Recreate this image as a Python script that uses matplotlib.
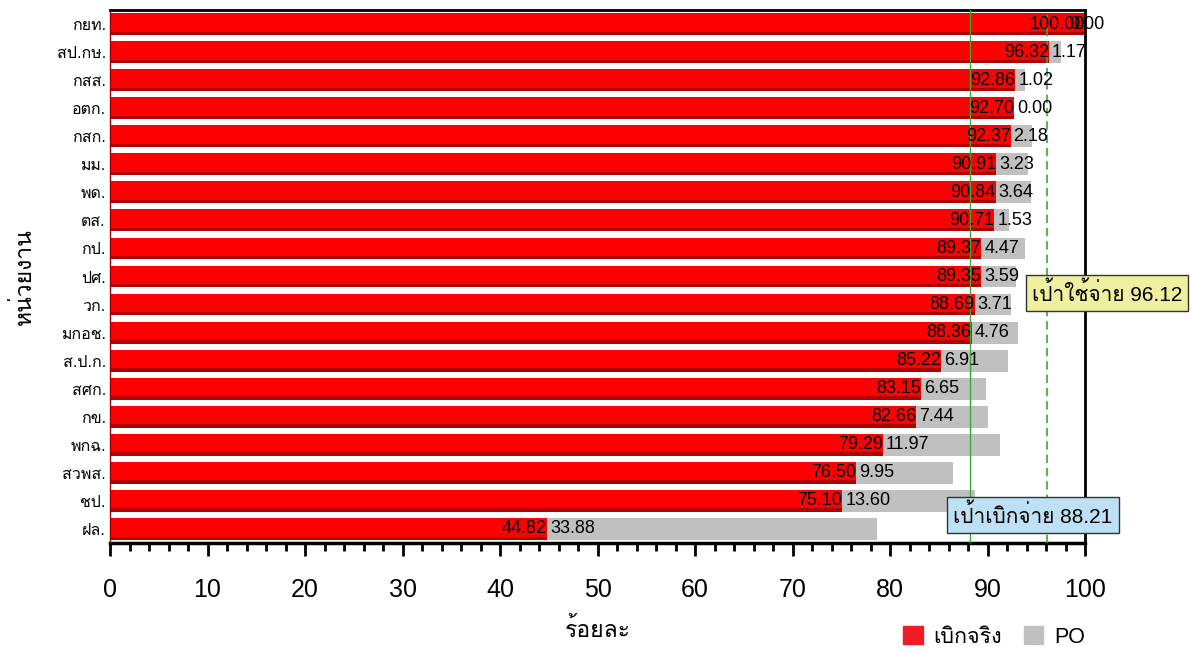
import matplotlib
matplotlib.use('Agg')
import matplotlib.pyplot as plt
from matplotlib import font_manager
from matplotlib.ft2font import FT2Font
from matplotlib.patches import Patch

# Data
# =====================================================================================
units = ['กยท.', 'สป.กษ.', 'กสส.', 'อตก.', 'กสก.', 'มม.', 'พด.', 'ตส.', 'กป.', 'ปศ.',
         'วก.', 'มกอช.', 'ส.ป.ก.', 'สศก.', 'กข.', 'พกฉ.', 'สวพส.', 'ชป.', 'ฝล.']
actual = [100.00, 96.32, 92.86, 92.70, 92.37, 90.91, 90.84, 90.71, 89.37, 89.35,
          88.69, 88.36, 85.22, 83.15, 82.66, 79.29, 76.50, 75.10, 44.82]
po = [0.00, 1.17, 1.02, 0.00, 2.18, 3.23, 3.64, 1.53, 4.47, 3.59,
      3.71, 4.76, 6.91, 6.65, 7.44, 11.97, 9.95, 13.60, 33.88]
target_spend = 96.12
target_disburse = 88.21
x_ticks = [0, 10, 20, 30, 40, 50, 60, 70, 80, 90, 100]

# find a font with thai glyphs
thai_font = None
for f in font_manager.fontManager.ttflist:
    try:
        if 0x0E01 in FT2Font(f.fname).get_charmap():
            thai_font = f.name
            break
    except Exception:
        pass

families = ['Liberation Sans']
if thai_font:
    families.append(thai_font)
families.append('DejaVu Sans')
plt.rcParams['font.family'] = families

fig = plt.figure(figsize=(11.94, 6.53), dpi=100)
ax = fig.add_axes([110 / 1194, 1 - 543 / 653, 975 / 1194, 533 / 653])

y = list(range(len(units)))
h = 0.78
red = '#ff0000'
gray = '#c0c0c0'

ax.barh(y, actual, height=h, color=red, zorder=2)
ax.barh([v + h / 2 - 0.06 for v in y], actual, height=0.12, color='#b00000', zorder=2)
ax.barh(y, po, left=actual, height=h, color=gray, zorder=2)

for i in y:
    ax.text(actual[i], i, '%.2f' % actual[i], ha='right', va='center', fontsize=13, zorder=4)
    # label of PO kept inside the plot area like excel does
    ax.text(min(actual[i] + 0.3, 98.4), i, '%.2f' % po[i], ha='left', va='center',
            fontsize=13, zorder=4, clip_on=False)

ax.axvline(target_disburse, color='#33aa33', lw=1, zorder=3)
ax.axvline(target_spend, color='#33aa33', lw=1.2, ls=(0, (5, 3)), zorder=3)

ax.set_xlim(0, 100)
ax.set_ylim(len(units) - 0.5, -0.5)
ax.set_yticks(y)
ax.set_yticklabels(units, fontsize=11.5)
ax.tick_params(axis='y', length=0, pad=3)
ax.set_xticks(x_ticks)
ax.set_xticks(range(0, 101, 2), minor=True)
ax.tick_params(axis='x', which='major', length=9, width=2, direction='out', labelsize=18, pad=16)
ax.tick_params(axis='x', which='minor', length=6, width=2, direction='out')

for s in ['top', 'right', 'bottom']:
    ax.spines[s].set_color('black')
    ax.spines[s].set_linewidth(2)
ax.spines['bottom'].set_linewidth(2.5)
ax.spines['left'].set_color('#a00000')
ax.spines['left'].set_linewidth(1)

ax.set_ylabel('หน่วยงาน', fontsize=16.5, labelpad=15)
ax.set_xlabel('ร้อยละ', fontsize=16.5, labelpad=12)

fig.text(1107 / 1194, 1 - 293 / 653, 'เป้าใช้จ่าย 96.12', fontsize=15, ha='center', va='center',
         bbox=dict(boxstyle='square,pad=0.3', fc='#eef0a0', ec='#333333', lw=1))
fig.text(1033 / 1194, 1 - 515 / 653, 'เป้าเบิกจ่าย 88.21', fontsize=15, ha='center', va='center',
         bbox=dict(boxstyle='square,pad=0.3', fc='#bde0f5', ec='#333333', lw=1))

handles = [Patch(color='#ee1c24', label='เบิกจริง'), Patch(color=gray, label='PO')]
fig.legend(handles=handles, loc='center', bbox_to_anchor=(994 / 1194, 1 - 637 / 653), ncol=2,
           frameon=False, fontsize=15.5, handlelength=0.9, handleheight=0.9, columnspacing=1.0,
           handletextpad=0.5)

fig.savefig('out.png', dpi=100)
